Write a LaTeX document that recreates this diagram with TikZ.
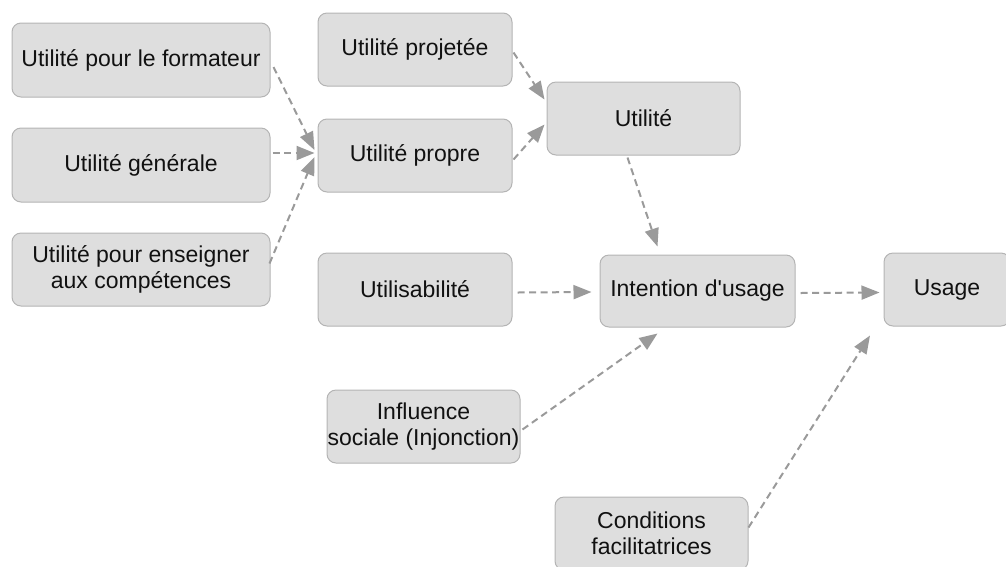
\documentclass[tikz,border=0pt]{standalone}
\usepackage{fontspec}
\setmainfont{Liberation Sans}
\usetikzlibrary{arrows.meta,calc}
\definecolor{boxfill}{HTML}{DEDEDE}
\definecolor{boxborder}{HTML}{B4B4B4}
\definecolor{arrgray}{HTML}{9A9A9A}
\definecolor{txt}{HTML}{111111}
\tikzset{
  box/.style={draw=boxborder, fill=boxfill, rounded corners=9pt, line width=1pt,
    align=center, inner sep=0pt, text=txt,
    font=\fontsize{23}{26.5}\selectfont},
  arr/.style={draw=arrgray, line width=2pt, dash pattern=on 7pt off 4.5pt,
    -{Triangle[length=18pt,width=14pt,fill=arrgray]}}
}
\begin{document}
\begin{tikzpicture}[x=1pt,y=-1pt]
\useasboundingbox (0,0) rectangle (1006,566);
\clip (0,0) rectangle (1006,566);
\node[box, minimum width=258pt, minimum height=74pt] (fmt) at (141,60) {Utilité pour le formateur};
\node[box, minimum width=258pt, minimum height=74pt] (gen) at (141,165) {Utilité générale};
\node[box, minimum width=258pt, minimum height=73pt] (ens) at (141,269.5) {Utilité pour enseigner\\aux compétences};
\node[box, minimum width=194pt, minimum height=73pt] (proj) at (415,49.5) {Utilité projetée};
\node[box, minimum width=194pt, minimum height=73pt] (prop) at (415,155.5) {Utilité propre};
\node[box, minimum width=193pt, minimum height=73pt] (util) at (643.5,118.5) {Utilité};
\node[box, minimum width=194pt, minimum height=73pt] (usab) at (415,289.5) {Utilisabilité};
\node[box, minimum width=195pt, minimum height=72pt] (inten) at (697.5,291) {Intention d\textquotesingle usage};
\node[box, minimum width=126pt, minimum height=73pt] (usage) at (947,289.5) {Usage};
\node[box, minimum width=193pt, minimum height=73pt] (infl) at (423.5,426.5) {Influence\\sociale (Injonction)};
\node[box, minimum width=193pt, minimum height=73pt] (cond) at (651.5,533.5) {Conditions\\facilitatrices};

\draw[arr] ($(fmt.east)+(3,7)$) -- ($(prop.west)+(-3,-5.5)$);
\draw[arr] ($(gen.east)+(2,-12)$) -- ($(prop.west)+(-3,-2.5)$);
\draw[arr] ($(ens.east)+(-1,-6)$) -- ($(prop.west)+(-3,1.5)$);
\draw[arr] ($(proj.east)+(1,3)$) -- ($(util.west)+(-2,-19)$);
\draw[arr] ($(prop.east)+(1,4)$) -- ($(util.west)+(-2,6)$);
\draw[arr] ($(util.south)+(-16,2)$) -- ($(inten.north)+(-40,-8)$);
\draw[arr] ($(usab.east)+(5,3)$) -- ($(inten.west)+(-8,1)$);
\draw[arr] ($(infl.east)+(2,3)$) -- ($(inten.south)+(-40,6)$);
\draw[arr] ($(inten.east)+(5,2)$) -- ($(usage.west)+(-4,3)$);
\draw[arr] ($(cond.east)+(0,-6)$) -- ($(usage.south)+(-77,9)$);
\end{tikzpicture}
\end{document}
